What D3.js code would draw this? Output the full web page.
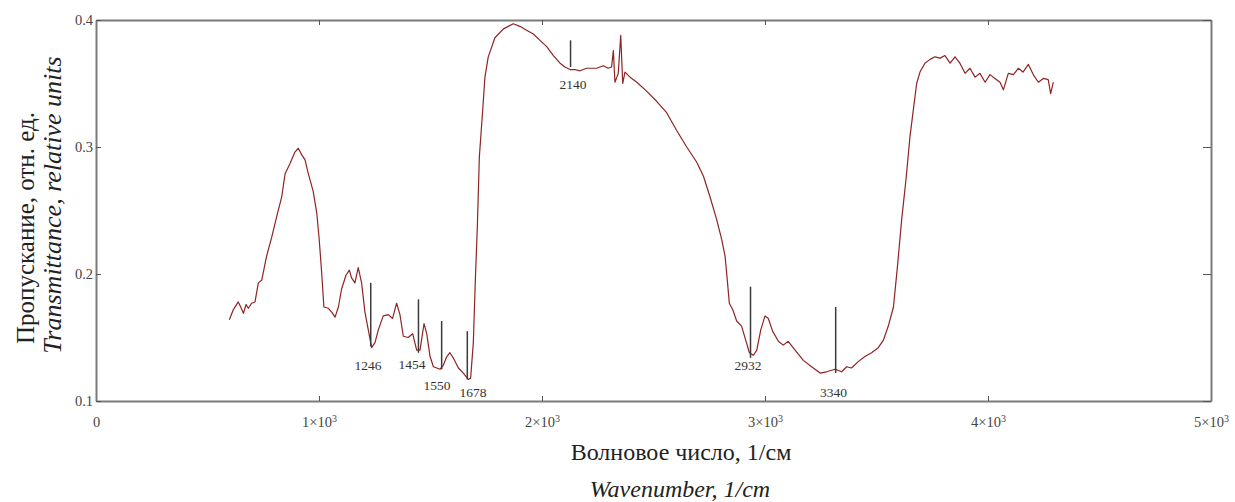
<!DOCTYPE html>
<html>
<head>
<meta charset="utf-8">
<script src="https://cdn.jsdelivr.net/npm/d3@7"></script>
<style>
  body { margin: 0; background: #fff; }
  text { font-family: "Liberation Serif", "DejaVu Serif", serif; }
</style>
</head>
<body>
<div id="chart"></div>
<script>
// IR spectrum
var wavenumber = [598, 616, 638, 649, 661, 673, 683, 698, 713, 728, 743, 765, 788, 810, 833, 848, 870, 892, 907, 922,
  937, 952, 974, 990, 1001, 1012, 1022, 1042, 1057, 1072, 1087, 1101, 1121, 1136, 1146, 1161, 1176, 1191, 1206, 1221,
  1236, 1251, 1266, 1288, 1311, 1330, 1348, 1363, 1378, 1400, 1420, 1438, 1453, 1471, 1483, 1498, 1513, 1528, 1543, 1557,
  1573, 1587, 1602, 1625, 1647, 1670, 1680, 1692, 1702, 1710, 1719, 1734, 1744, 1759, 1789, 1827, 1871, 1901, 1931, 1961,
  1991, 2021, 2051, 2081, 2103, 2126, 2148, 2170, 2200, 2245, 2275, 2297, 2312, 2320, 2327, 2342, 2353, 2362, 2372, 2395,
  2425, 2469, 2514, 2559, 2604, 2649, 2694, 2724, 2753, 2783, 2806, 2821, 2831, 2840, 2855, 2873, 2895, 2915, 2930, 2948,
  2963, 2981, 3000, 3015, 3034, 3060, 3082, 3104, 3135, 3172, 3209, 3247, 3276, 3314, 3344, 3366, 3388, 3418, 3448, 3478,
  3508, 3531, 3553, 3576, 3594, 3613, 3632, 3650, 3665, 3680, 3695, 3717, 3740, 3762, 3785, 3807, 3830, 3852, 3874, 3897,
  3919, 3942, 3964, 3987, 4009, 4031, 4054, 4069, 4091, 4114, 4136, 4157, 4181, 4203, 4226, 4248, 4270, 4281, 4293];
var transmittance = [0.164, 0.172, 0.178, 0.174, 0.169, 0.176, 0.173, 0.177, 0.178, 0.193, 0.195, 0.214, 0.229, 0.245, 0.261, 0.279, 0.287, 0.296, 0.299, 0.294,
  0.290, 0.279, 0.265, 0.248, 0.227, 0.201, 0.174, 0.173, 0.170, 0.166, 0.174, 0.188, 0.199, 0.203, 0.197, 0.193, 0.205, 0.193, 0.170, 0.156,
  0.142, 0.146, 0.156, 0.167, 0.168, 0.165, 0.177, 0.168, 0.151, 0.150, 0.153, 0.140, 0.140, 0.161, 0.153, 0.135, 0.127, 0.126, 0.125, 0.128,
  0.135, 0.138, 0.134, 0.126, 0.122, 0.117, 0.118, 0.146, 0.200, 0.237, 0.292, 0.329, 0.355, 0.371, 0.386, 0.393, 0.397, 0.395, 0.392, 0.389,
  0.384, 0.379, 0.372, 0.366, 0.363, 0.361, 0.361, 0.360, 0.362, 0.362, 0.364, 0.362, 0.363, 0.376, 0.351, 0.358, 0.388, 0.350, 0.359, 0.355,
  0.351, 0.344, 0.336, 0.327, 0.313, 0.300, 0.288, 0.277, 0.261, 0.243, 0.227, 0.214, 0.195, 0.177, 0.172, 0.163, 0.159, 0.147, 0.138, 0.136,
  0.140, 0.156, 0.167, 0.165, 0.155, 0.147, 0.144, 0.147, 0.140, 0.132, 0.127, 0.122, 0.123, 0.125, 0.123, 0.127, 0.126, 0.131, 0.135, 0.138,
  0.142, 0.148, 0.159, 0.174, 0.206, 0.243, 0.274, 0.308, 0.329, 0.350, 0.359, 0.366, 0.369, 0.371, 0.370, 0.372, 0.366, 0.371, 0.366, 0.358,
  0.362, 0.355, 0.358, 0.351, 0.357, 0.354, 0.351, 0.345, 0.358, 0.357, 0.362, 0.359, 0.365, 0.357, 0.351, 0.354, 0.353, 0.342, 0.351];

// peak markers: label, line position and extent, label anchor (data units)
var peakLabels = ["1246", "1454", "1550", "1678", "2140", "2932", "3340"];
var peakWn     = [1232, 1446, 1550, 1665, 2128, 2935, 3317];
var peakTop    = [0.193, 0.180, 0.163, 0.155, 0.384, 0.190, 0.174];
var peakBottom = [0.143, 0.138, 0.125, 0.117, 0.363, 0.134, 0.122];
var labelWn    = [1220, 1417, 1529, 1691, 2139, 2924, 3307];
var labelVal   = [0.1285, 0.1293, 0.1127, 0.1067, 0.3496, 0.1285, 0.1072];

var xTicks = [0, 1000, 2000, 3000, 4000, 5000];
var yTicks = [0.1, 0.2, 0.3, 0.4];

var margin = {top: 20, right: 24, bottom: 101, left: 96},
  width = 1235 - margin.left - margin.right,
  height = 502 - margin.top - margin.bottom;

var svg = d3.select("#chart")
  .append("svg")
    .attr("width", 1235)
    .attr("height", 502)
  .append("g")
    .attr("transform", "translate(" + margin.left + "," + margin.top + ")");

var x = d3.scaleLinear().domain([0, 5000]).range([0, width]);
var y = d3.scaleLinear().domain([0.1, 0.4]).range([height, 0]);

var frameColor = "#7a7a7a";

function styleAxis(g) {
  g.attr("font-size", null).attr("font-family", null);
  g.select(".domain").attr("stroke", frameColor).attr("stroke-width", 2);
  g.selectAll(".tick line").attr("stroke", "#555").attr("stroke-width", 1);
  g.selectAll(".tick text").attr("fill", "#444").style("font-size", "14.5px");
}

// bottom axis with 1x10^3 style labels
var xb = svg.append("g")
  .attr("transform", "translate(0," + height + ")")
  .call(d3.axisBottom(x).tickValues(xTicks).tickSize(-5).tickSizeOuter(0).tickPadding(16).tickFormat(""));
styleAxis(xb);
xb.selectAll(".tick text").each(function(d) {
  var t = d3.select(this);
  if (d === 0) { t.text("0"); return; }
  t.append("tspan").text((d / 1000) + "\u00d710");
  t.append("tspan").attr("dy", "-0.55em").style("font-size", "10px").text("3");
});

svg.append("g")
  .call(d3.axisTop(x).tickValues(xTicks).tickSize(-5).tickSizeOuter(0).tickFormat(""))
  .call(styleAxis);

svg.append("g")
  .call(d3.axisLeft(y).tickValues(yTicks).tickSize(-5).tickSizeOuter(0).tickPadding(3).tickFormat(d3.format(".1f")))
  .call(styleAxis);

svg.append("g")
  .attr("transform", "translate(" + width + ",0)")
  .call(d3.axisRight(y).tickValues(yTicks).tickSize(-8).tickSizeOuter(0).tickFormat(""))
  .call(styleAxis);

// spectrum
var pts = wavenumber.map(function(w, i) { return [w, transmittance[i]]; });
svg.append("path")
  .datum(pts)
  .attr("fill", "none")
  .attr("stroke", "#8e2424")
  .attr("stroke-width", 1.2)
  .attr("stroke-linejoin", "round")
  .attr("d", d3.line().x(function(d) { return x(d[0]); }).y(function(d) { return y(d[1]); }));

// peak markers
peakLabels.forEach(function(lbl, i) {
  svg.append("line")
    .attr("x1", x(peakWn[i])).attr("x2", x(peakWn[i]))
    .attr("y1", y(peakTop[i])).attr("y2", y(peakBottom[i]))
    .attr("stroke", "#3a3a3a").attr("stroke-width", 1.5);
  svg.append("text")
    .attr("x", x(labelWn[i])).attr("y", y(labelVal[i]))
    .attr("text-anchor", "middle")
    .attr("dy", "0.35em")
    .style("font-size", "13.5px")
    .attr("fill", "#333")
    .text(lbl);
});

// axis titles
svg.append("text")
  .attr("x", 585).attr("y", height + 59)
  .attr("text-anchor", "middle")
  .style("font-size", "24px").attr("fill", "#222")
  .text("Волновое число, 1/см");
svg.append("text")
  .attr("x", 584).attr("y", height + 96)
  .attr("text-anchor", "middle")
  .style("font-size", "24px").style("font-style", "italic").attr("fill", "#222")
  .text("Wavenumber, 1/cm");

svg.append("text")
  .attr("transform", "translate(" + (-71) + "," + 208 + ") rotate(-90)")
  .attr("text-anchor", "middle")
  .attr("dy", "0.35em")
  .style("font-size", "25px").attr("fill", "#222")
  .text("Пропускание, отн. ед.");
svg.append("text")
  .attr("transform", "translate(" + (-44) + "," + 185 + ") rotate(-90)")
  .attr("text-anchor", "middle")
  .attr("dy", "0.35em")
  .style("font-size", "26px").style("font-style", "italic").attr("fill", "#222")
  .text("Transmittance, relative units");
</script>
</body>
</html>
